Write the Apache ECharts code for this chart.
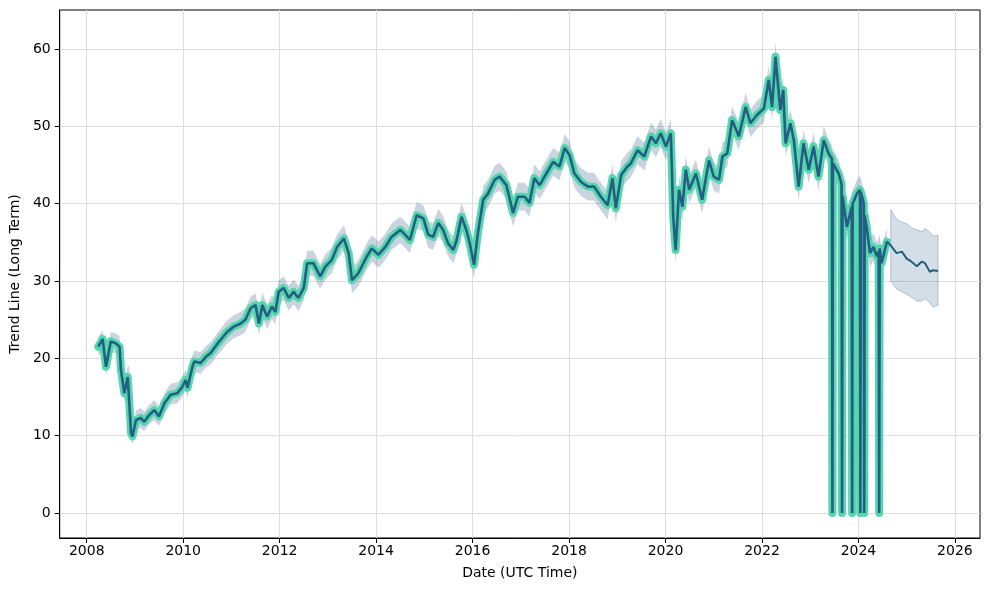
<!DOCTYPE html>
<html>
<head>
<meta charset="utf-8">
<script src="https://cdn.jsdelivr.net/npm/echarts@6/dist/echarts.min.js"></script>
<style>html,body{margin:0;padding:0;background:#fff;}#c{width:989px;height:590px;}</style>
</head>
<body>
<div id="c"></div>
<script>
// ---- data (decimal years) ----
const histYears = [2008.24,2008.33,2008.40,2008.50,2008.61,2008.68,2008.71,2008.78,2008.85,2008.88,2008.92,2008.95,
2009.02,2009.12,2009.19,2009.30,2009.40,2009.50,2009.61,2009.74,2009.88,2009.98,
2010.05,2010.09,2010.19,2010.23,2010.36,2010.47,2010.57,2010.71,2010.91,
2011.05,2011.19,2011.29,2011.40,2011.50,2011.57,2011.64,2011.74,2011.84,2011.91,2011.98,
2012.08,2012.19,2012.29,2012.39,2012.50,2012.57,2012.70,2012.84,2012.95,
2013.08,2013.19,2013.33,2013.43,2013.50,2013.57,2013.63,2013.81,2013.91,
2014.05,2014.19,2014.32,2014.50,2014.60,2014.70,2014.84,2014.98,
2015.08,2015.18,2015.29,2015.39,2015.49,2015.60,2015.67,2015.77,2015.87,2015.94,
2016.03,2016.11,2016.22,2016.32,2016.46,2016.56,2016.70,2016.84,2016.94,
2017.08,2017.18,2017.28,2017.39,2017.53,2017.67,2017.80,2017.91,
2018.01,2018.11,2018.25,2018.39,2018.52,2018.66,2018.80,2018.90,2018.97,
2019.08,2019.21,2019.28,2019.42,2019.56,2019.70,2019.80,2019.90,
2020.01,2020.11,2020.16,2020.21,2020.28,2020.35,2020.42,2020.49,2020.63,2020.76,2020.90,
2021.00,2021.11,2021.18,2021.28,2021.38,2021.52,2021.66,2021.76,2021.90,
2022.04,2022.14,2022.21,2022.28,2022.31,2022.38,2022.44,2022.49,2022.59,2022.66,2022.76,2022.86,2022.97,
2023.07,2023.17,2023.28,2023.38,2023.45,2023.46,2023.47,2023.59,2023.65,2023.66,2023.67,2023.76,2023.86,2023.87,2023.88,2023.97,
2024.03,2024.04,2024.05,2024.11,2024.12,2024.13,2024.17,2024.24,2024.31,2024.38,2024.42,2024.43,2024.44,2024.48,2024.59];

const histValues = [21.5,22.5,18.9,22.2,21.9,21.5,18.5,15.5,17.6,17.8,10.3,9.9,
12.0,12.3,11.8,12.7,13.3,12.5,14.2,15.3,15.5,16.3,
17.2,16.2,18.9,19.6,19.4,20.2,20.7,21.9,23.4,
24.1,24.5,25.0,26.5,26.9,24.5,26.9,25.4,26.7,26.0,28.6,
29.1,27.8,28.6,27.8,29.1,32.3,32.3,30.6,31.9,
32.7,34.4,35.5,33.6,30.1,30.6,31.0,33.2,34.2,
33.4,34.4,35.7,36.6,36.0,35.3,38.5,38.1,
36.0,35.7,37.5,36.6,34.9,34.0,35.3,38.3,36.6,34.9,
32.1,36.2,40.5,41.3,43.1,43.5,42.4,38.8,40.9,
40.9,40.1,43.3,42.4,43.9,45.4,44.8,47.2,
46.3,43.9,42.8,42.2,42.2,40.9,39.8,43.3,39.4,
43.7,44.8,45.2,46.9,46.1,48.7,47.8,49.1,
47.4,49.1,38.3,34.0,41.8,39.6,44.4,41.8,43.9,40.5,45.6,
43.5,43.1,46.1,46.5,50.8,48.7,52.5,50.4,51.5,
52.3,56.0,52.5,59.0,56.9,52.1,54.7,47.8,50.4,48.2,42.2,47.8,44.4,
47.4,43.5,48.2,46.5,45.8,0,45.2,43.9,42.5,0,41.0,37.0,39.6,0,40.0,41.3,
41.8,0,41.5,40.0,0,38.5,37.0,33.6,34.4,33.2,33.8,0,34.2,32.3,35.1];

const bandLow = [20.3,21.0,17.8,20.9,20.6,20.2,17.2,14.3,16.3,16.4,9.3,9.0,
10.8,11.0,10.6,11.5,12.0,11.3,12.9,14.0,14.2,15.0,
15.8,14.9,17.5,18.2,18.0,18.8,19.2,20.4,21.9,
22.6,23.0,23.4,25.0,25.3,23.0,25.3,23.8,25.1,24.4,27.0,
27.5,26.2,27.0,26.1,27.5,30.7,30.6,29.0,30.2,
31.0,32.7,33.8,31.9,28.4,28.9,29.3,31.5,32.5,
31.7,32.7,34.0,34.9,34.3,33.6,36.8,36.4,
34.3,34.0,35.8,34.9,33.2,32.3,33.6,36.6,34.9,33.2,
30.3,34.4,38.7,39.5,41.3,41.7,40.6,37.0,39.1,
39.1,38.3,41.5,40.6,42.1,43.6,43.0,45.4,
44.5,42.1,41.0,40.4,40.4,39.1,38.0,41.5,37.6,
41.9,43.0,43.4,45.1,44.3,46.9,46.0,47.3,
45.6,47.3,36.5,32.2,40.0,37.8,42.6,40.0,42.1,38.7,43.8,
41.7,41.3,44.3,44.7,49.0,46.9,50.7,48.6,49.7,
50.5,54.2,50.7,57.2,55.1,50.3,52.9,46.0,48.6,46.4,40.4,46.0,42.6,
45.6,41.7,46.4,44.7,44.0,null,43.4,42.1,40.7,null,39.2,35.2,37.8,null,38.2,39.5,
40.0,null,39.7,38.2,null,36.7,35.2,31.8,32.6,31.4,32.0,null,32.4,30.5,33.3];

const bandHigh = [22.8,23.6,20.3,23.4,23.2,22.9,19.9,17.0,18.9,19.0,11.6,11.2,
13.2,13.6,13.1,14.0,14.6,13.8,15.5,16.7,16.9,17.7,
18.5,17.6,20.4,21.0,20.8,21.6,22.1,23.3,24.9,
25.6,26.0,26.5,28.0,28.4,26.1,28.5,27.0,28.2,27.6,30.1,
30.6,29.4,30.2,29.4,30.7,33.9,33.9,32.2,33.5,
34.3,36.0,37.2,35.3,31.8,32.3,32.7,34.9,35.9,
35.1,36.1,37.4,38.3,37.7,37.0,40.2,39.8,
37.8,37.5,39.3,38.4,36.7,35.8,37.1,40.1,38.4,36.7,
33.9,38.0,42.3,43.1,44.9,45.3,44.2,40.6,42.7,
42.7,41.9,45.1,44.2,45.7,47.2,46.6,49.0,
48.1,45.7,44.6,44.0,44.0,42.7,41.6,45.1,41.2,
45.5,46.6,47.0,48.7,47.9,50.5,49.6,50.9,
49.2,50.9,40.1,35.8,43.6,41.4,46.2,43.6,45.7,42.3,47.4,
45.3,44.9,47.9,48.3,52.6,50.5,54.3,52.2,53.3,
54.1,57.8,54.3,60.9,58.7,53.9,56.5,49.6,52.2,50.0,44.0,49.6,46.2,
49.2,45.3,50.0,48.3,47.6,null,47.0,45.7,44.3,null,42.8,38.8,41.4,null,41.8,43.1,
43.6,null,43.3,41.8,null,40.3,38.8,35.4,36.2,35.0,35.6,null,36.0,34.1,36.9];

const fcYears  = [2024.59,2024.67,2024.79,2024.90,2025.00,2025.10,2025.21,2025.31,2025.38,2025.48,2025.55,2025.65];
const fcValues = [35.1,34.6,33.6,33.8,32.9,32.5,31.9,32.5,32.3,31.2,31.4,31.3];
const fcLow    = [null,30.0,29.0,28.6,28.3,27.9,27.4,27.4,27.7,27.2,26.6,26.9];
const fcHigh   = [null,39.2,38.0,37.6,37.4,36.9,36.6,36.4,36.8,36.3,35.8,35.9];

const xTicks = [2008,2010,2012,2014,2016,2018,2020,2022,2024,2026];
const yTicks = [0,10,20,30,40,50,60];

// ---- build ----
const histLine = histYears.map((x,i)=>[x,histValues[i]]);
const fcLine = fcYears.map((x,i)=>[x,fcValues[i]]);
function bandData(xs, lo, hi){
  const d=[]; xs.forEach((x,i)=>{ if(lo[i]!=null && hi[i]!=null) d.push([x,lo[i],hi[i]]); }); return d;
}
const histBand = bandData(histYears, bandLow, bandHigh);
const fcBand = bandData(fcYears, fcLow, fcHigh);

function bandSeries(data, fill, stroke){
  return {
    type:'custom', data:data, encode:{x:0,y:[1,2]}, z:1, silent:true,
    renderItem:function(params, api){
      if(params.dataIndex!==0) return null;
      const top=[], bot=[];
      for(const p of data){ top.push(api.coord([p[0],p[2]])); bot.push(api.coord([p[0],p[1]])); }
      return {type:'polygon', shape:{points:top.concat(bot.reverse())},
        style:{fill:fill, stroke:stroke, lineWidth:1}};
    }
  };
}

const FONT='DejaVu Sans';
const chart = echarts.init(document.getElementById('c'), null, {renderer:'canvas'});
chart.setOption({
  animation:false,
  backgroundColor:'#fff',
  grid:{left:57,right:9,top:10,bottom:52,show:true,borderColor:'#000',borderWidth:1,backgroundColor:'transparent'},
  xAxis:{
    type:'value', min:2007.44, max:2026.52,
    name:'Date (UTC Time)', nameLocation:'middle', nameGap:28,
    nameTextStyle:{fontFamily:FONT,fontSize:14,color:'#000'},
    axisLine:{show:true,onZero:false,lineStyle:{color:'#000',width:1}},
    axisTick:{show:true,inside:false,length:5,lineStyle:{color:'#000'},customValues:xTicks},
    axisLabel:{show:true,margin:6,fontFamily:FONT,fontSize:14,color:'#000',customValues:xTicks,formatter:v=>String(Math.round(v))},
    splitLine:{show:true,lineStyle:{color:'#dedede',width:1}}
  },
  yAxis:{
    type:'value', min:-3.23, max:65.04,
    name:'Trend Line (Long Term)', nameLocation:'middle', nameGap:34, nameRotate:90,
    nameTextStyle:{fontFamily:FONT,fontSize:14,color:'#000'},
    axisLine:{show:true,onZero:false,lineStyle:{color:'#000',width:1}},
    axisTick:{show:true,inside:false,length:5,lineStyle:{color:'#000'},customValues:yTicks},
    axisLabel:{show:true,margin:9,fontFamily:FONT,fontSize:14,color:'#000',customValues:yTicks,formatter:v=>String(Math.round(v))},
    splitLine:{show:true,lineStyle:{color:'#dedede',width:1}}
  },
  series:[
    bandSeries(histBand,'rgba(60,100,140,0.28)','rgba(60,100,140,0.0)'),
    bandSeries(fcBand,'rgba(40,90,130,0.2)','rgba(40,90,130,0.3)'),
    {type:'line', data:histLine, showSymbol:false, z:2, silent:true,
      lineStyle:{color:'#55d6af',width:8,join:'round',cap:'round'}},
    {type:'line', data:histLine, showSymbol:false, z:3, silent:true,
      lineStyle:{color:'#225f82',width:2.6}},
    {type:'line', data:fcLine, showSymbol:false, z:3, silent:true,
      lineStyle:{color:'#225f82',width:2}}
  ]
});
</script>
</body>
</html>
